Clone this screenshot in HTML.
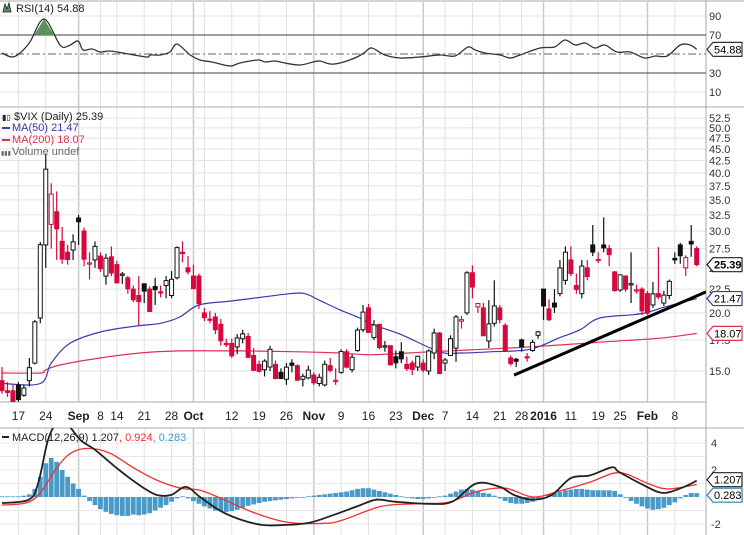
<!DOCTYPE html>
<html><head><meta charset="utf-8">
<style>
html,body{margin:0;padding:0;background:#fff;}
svg{display:block;font-family:"Liberation Sans",sans-serif;}
</style></head>
<body>
<svg id="c" width="744" height="535" viewBox="0 0 744 535">
<defs>
<clipPath id="cpMain"><rect x="0" y="108" width="706" height="294"/></clipPath>
<clipPath id="cpRsi"><rect x="0" y="2" width="706" height="105"/></clipPath>
<clipPath id="cpMacd"><rect x="0" y="428" width="706" height="107"/></clipPath>
</defs>
</svg>
<script>
// ---- price data (Aug 12 2015 - Feb 12 2016) ----
const opens  = [14.3,13.6,13.6,14.0,13.3,14.3,15.6,19.5,28.0,31.0,33.0,28.5,27.0,27.3,
 32.0,30.0,25.5,26.0,26.5,24.0,26.4,25.4,24.1,23.8,22.5,21.8,23.1,22.5,22.8,22.2,22.9,21.8,23.8,27.0,25.0,
 24.0,24.0,20.0,19.4,19.6,18.9,17.2,17.2,16.9,17.6,17.8,16.2,15.5,15.1,15.3,15.5,14.9,14.4,15.6,15.4,14.4,14.5,
 14.7,14.1,14.0,15.4,14.3,14.9,16.5,15.1,16.6,18.4,20.5,17.7,18.9,16.9,17.0,16.1,16.5,15.5,15.6,15.3,
 15.6,15.0,16.4,18.1,15.6,16.2,16.8,19.2,20.0,24.4,20.6,20.5,17.4,19.0,20.5,18.8,16.0,15.9,17.5,16.1,16.6,17.9,
 22.5,20.4,21.0,22.0,23.5,26.0,22.9,22.0,25.0,28.0,26.0,28.0,27.5,24.5,22.4,24.0,23.0,22.4,22.5,
 22.0,20.8,22.0,21.0,21.8,26.2,28.0,25.0,28.5,27.5];
const highs  = [15.3,14.2,14.0,14.2,14.0,16.0,19.3,28.4,44.0,38.0,36.5,30.6,28.0,29.5,
 32.5,30.5,27.0,28.5,27.0,26.8,27.8,25.9,24.5,24.0,22.9,24.0,23.1,22.8,23.8,22.9,24.0,24.6,27.8,28.5,26.5,
 25.4,24.3,20.5,20.2,20.0,19.4,17.6,17.6,18.0,18.4,18.1,16.8,15.8,15.9,17.0,15.8,15.2,15.6,15.9,15.5,14.8,15.4,
 14.9,14.8,15.8,16.0,15.2,16.7,16.7,16.3,18.6,20.8,20.9,19.3,18.9,17.4,17.0,16.6,17.3,16.1,15.8,16.2,
 15.9,16.7,18.5,18.2,16.0,17.9,19.8,19.7,24.6,25.3,21.0,21.0,21.3,23.5,20.8,19.0,16.2,16.0,17.6,16.4,17.5,18.3,
 22.5,21.4,22.5,26.0,27.8,27.8,24.3,26.0,26.0,30.9,27.0,32.1,28.0,24.6,24.2,24.1,27.0,23.0,22.7,
 22.3,23.3,27.7,22.3,23.6,27.0,28.3,26.6,30.9,27.8];
const lows   = [13.4,13.2,12.7,12.9,13.2,13.9,15.5,19.0,25.0,27.5,26.0,25.5,25.4,26.0,
 28.0,25.2,23.6,25.0,24.5,23.0,24.0,23.2,23.1,22.0,21.1,18.8,21.0,20.2,20.8,21.6,21.5,21.5,23.6,25.7,24.2,
 22.5,20.4,19.2,19.0,18.0,17.0,16.9,16.0,16.3,17.2,16.0,15.0,14.9,14.6,15.0,14.4,14.4,14.0,14.9,14.3,13.9,14.4,
 14.0,13.9,13.9,14.9,14.0,14.8,15.2,14.9,16.5,18.2,18.1,17.5,16.7,16.5,15.4,15.2,15.6,15.0,14.7,15.0,
 14.9,14.7,15.9,14.8,15.0,16.2,15.7,18.5,19.8,21.5,20.0,18.2,16.8,18.7,19.0,16.5,15.4,15.3,16.5,15.7,16.5,17.6,
 19.3,19.2,20.0,21.7,23.0,24.0,22.0,21.5,23.5,26.5,25.6,27.0,25.2,22.2,22.2,22.2,21.0,22.0,19.8,
 19.8,20.5,21.4,20.7,21.4,25.5,25.5,24.0,26.4,25.2];
const closes = [13.61,13.49,12.83,13.02,13.79,15.25,19.14,28.03,40.74,36.02,30.32,26.10,26.05,28.43,
 31.40,26.09,25.61,27.80,24.90,26.23,24.37,23.20,24.25,22.54,21.35,21.14,22.28,20.14,22.44,22.13,23.47,23.62,27.63,26.83,24.50,
 22.55,20.94,19.54,19.40,18.40,17.42,17.08,16.17,17.67,18.03,16.05,15.05,14.98,15.75,16.70,14.45,14.46,15.29,15.43,14.33,14.61,15.07,
 14.15,14.54,15.51,15.05,14.33,16.52,15.29,16.06,18.37,20.08,18.16,18.84,16.85,16.99,15.47,15.62,15.93,15.19,15.12,16.13,
 15.07,16.57,18.11,14.81,15.84,17.60,19.61,19.34,24.39,22.73,20.95,17.86,18.94,20.70,19.34,16.60,15.57,15.74,16.91,16.08,17.29,18.21,
 20.70,19.34,20.59,24.99,27.01,24.30,22.47,25.22,23.95,27.02,26.05,27.59,26.69,22.34,24.15,22.50,23.11,22.42,20.20,
 19.98,21.98,21.65,21.84,23.38,26.00,26.54,26.29,28.14,25.40];

// moving averages (sampled at candle indices)
const ma50Idx = [0,7,9,12.4,18,24.7,29,32.5,36,41.7,47.2,52.7,55.4,58,61.8,65.4,67.6,72.8,80,83.7,89.2,96.5,102,105.7,109.3,116.6,121.2,127];
const ma50Val = [14.1,14.1,15.6,17.2,18.2,18.75,19.0,19.6,20.8,21.2,21.6,22.0,22.0,21.3,20.3,19.5,18.9,18.0,16.5,16.4,16.5,16.7,17.7,18.4,19.5,19.9,20.6,21.47];
const ma200Idx = [0,7,7.9,10.6,17.9,25.2,32.5,43.5,54.5,61.8,67.6,78.2,85.6,96.5,109.3,120.3,127];
const ma200Val = [14.85,14.85,15.07,15.45,16.0,16.4,16.57,16.57,16.5,16.4,16.26,16.5,16.65,16.9,17.3,17.65,18.07];

// trendline (index, price)
const trendIdx = [93.6,128.7];
const trendVal = [14.7,22.2];

// RSI
const rsiIdx = [0,1.8,3.3,5.1,7.7,10.6,12.1,13.9,14.8,16.5,17.9,19.7,22.1,25.2,26.7,27.1,28.9,30.7,32,34.4,36.2,38.4,41.7,43.5,46.8,48.1,49.9,51.7,54.5,56.9,58.1,60,61.8,64.9,66.4,67.6,70,72.8,76.4,80.1,82.8,85.2,86.5,88.3,91,92.9,94.7,98.4,101,102.9,104.8,106.6,108.4,110.2,112.4,114.8,117.5,119.4,121.6,124,125.8,127];
const rsiVal = [51,46.8,51,62.6,86.8,59.5,58.4,63.7,54.2,55.3,52.1,53.2,51,47.9,46.8,49,49,52.1,60.5,49,43.7,41.6,37.4,40.5,43.7,41.6,42.6,40.5,38.4,41.6,42.6,39.5,40.5,46.8,52.1,56.3,49,45.8,46.8,49,47.9,57.4,54.2,51,49,45.8,49,56.3,57.4,64.7,59.5,61.6,56.3,59.5,52.1,52.1,45.8,47.9,47.9,59.5,59.5,54.88];

// MACD
const macdIdx = [0,4.9,6.6,8.4,10.1,12.1,14.4,17,21.4,25.8,28.3,30.9,33.6,36.2,39.7,43.1,47.5,51.9,56.3,60.5,64.9,68.4,71.8,78.1,82.3,86.7,91,93.6,97.1,100.5,104,107.5,111.5,112.8,117.2,120.7,124.1,127];
const macdVal = [-0.45,-0.2,1.0,4.2,5.5,5.3,4.2,3.5,2.0,0.7,0.15,0.15,0.75,0,-0.98,-1.6,-2.07,-2.07,-1.9,-1.35,-0.7,-0.2,-0.35,-0.5,-0.35,1.0,0.75,0.15,-0.2,0.15,1.4,1.6,2.2,1.85,0.9,0.3,0.65,1.207];
const sigIdx = [0,5.7,10.1,12.6,15.7,19.7,23.9,28.3,32.7,36.2,40.6,45.7,51.9,58.9,62.3,69.3,75.3,81.5,86.7,92,97.1,102.4,107.5,112.8,118.1,121.6,127];
const sigVal = [-0.6,-0.2,2.2,3.25,3.6,3.25,2.2,1.25,0.65,0.5,-0.2,-1.1,-1.85,-1.95,-1.7,-0.7,-0.5,-0.4,0.4,0.65,0,0.5,1.1,1.8,1.0,0.6,0.924];
const histVal = [0.05,0.05,0.05,0.05,0.1,0.2,0.6,1.5,2.5,2.9,2.6,2.0,1.5,1.0,0.6,0.1,
 -0.3,-0.6,-0.9,-1.1,-1.25,-1.35,-1.4,-1.4,-1.3,-1.35,-1.3,-1.2,-1.0,-0.8,-0.6,-0.35,-0.1,0.05,-0.1,-0.3,-0.5,-0.7,-0.85,-1.0,-1.05,-1.1,-1.05,-0.95,-0.8,-0.65,-0.55,-0.45,-0.35,-0.3,-0.25,-0.2,-0.15,-0.1,-0.05,0,
 0.05,0.1,0.15,0.2,0.25,0.3,0.35,0.4,0.5,0.6,0.65,0.65,0.55,0.45,0.35,0.25,0.15,0.05,-0.05,-0.1,-0.15,-0.15,-0.1,-0.05,0.05,0.1,0.25,0.4,0.55,0.6,0.55,0.45,0.3,0.25,0.1,
 -0.1,-0.3,-0.45,-0.5,-0.5,-0.45,-0.35,-0.2,0,0.2,0.3,0.4,0.5,0.55,0.6,0.6,0.55,0.5,0.5,0.5,0.5,0.45,0.2,0,-0.3,-0.5,-0.7,-0.85,-0.95,-0.9,-0.8,-0.6,-0.4,-0.1,0.15,0.3,0.283];

// axes
const priceTicks = [15,17.5,20,22.5,25,27.5,30,32.5,35,37.5,40,42.5,45,47.5,50,52.5];
const rsiTicks = [90,70,30,10];
const macdTicks = [4,2,-2];
const gridIdx = [3,8,14,18,21,26,31,35,37,42,47,52,57,62,67,72,77,81,86,91,95,99,104,109,113,118,123];
const gridLbl = ["17","24","Sep","8","14","21","28","Oct","","12","19","26","Nov","9","16","23","Dec","7","14","21","28","2016","11","19","25","Feb","8"];
const monthIdx = [14,35,57,77,99,118];

const NS = "http://www.w3.org/2000/svg";
const svg = document.getElementById('c');
function mk(tag, attrs, parent){ const e=document.createElementNS(NS,tag); for(const k in attrs) e.setAttribute(k,attrs[k]); (parent||svg).appendChild(e); return e; }
const xOf = i => 2 + i*5.47;
const yP = v => 231 - (Math.log(v) - Math.log(30))*202;
const yR = v => 54 - (v-50)*0.95;
const yM = v => 497 - v*13.5;
// smooth curve (Catmull-Rom) through points
function smooth(pts){
  let d='M'+pts[0][0].toFixed(1)+','+pts[0][1].toFixed(1);
  for(let i=0;i<pts.length-1;i++){
    const p0=pts[Math.max(0,i-1)],p1=pts[i],p2=pts[i+1],p3=pts[Math.min(pts.length-1,i+2)];
    const c1=[p1[0]+(p2[0]-p0[0])/6,p1[1]+(p2[1]-p0[1])/6];
    const c2=[p2[0]-(p3[0]-p1[0])/6,p2[1]-(p3[1]-p1[1])/6];
    d+='C'+c1[0].toFixed(1)+','+c1[1].toFixed(1)+' '+c2[0].toFixed(1)+','+c2[1].toFixed(1)+' '+p2[0].toFixed(1)+','+p2[1].toFixed(1);
  }
  return d;
}

// panel grids
const grid = mk('g',{});


gridIdx.forEach((gi,k)=>{
  const x = xOf(gi);
  const dark = monthIdx.indexOf(gi)>=0;
  [[2,107],[108,402],[428,535]].forEach(r=>{
    const l = mk('line',{x1:x,x2:x,y1:r[0],y2:r[1],stroke:dark?'#c8c8c8':'#e2e2e2','stroke-width':dark?1.5:1},grid);
    
    
  });
});
priceTicks.forEach(v=>{ const l=mk('line',{x1:0,x2:706,y1:yP(v),y2:yP(v),stroke:'#e2e2e2'},grid);
  
   });
[90,10].forEach(v=>{ const l=mk('line',{x1:0,x2:706,y1:yR(v),y2:yR(v),stroke:'#e2e2e2'},grid);
  
   });
[4,3,2,1,-1,-2].forEach(v=>{ const l=mk('line',{x1:0,x2:706,y1:yM(v),y2:yM(v),stroke:'#e8e8e8'},grid);
  
   });

// panel borders
[[0,1,744,1],[0,107,744,107],[0,402,706,402],[0,428,744,428],[706,0,706,535]].forEach(b=>{
  const l = mk('line',{x1:b[0],y1:b[1],x2:b[2],y2:b[3],stroke:'#aaa'});
  
  
});

// RSI panel
const rsiG = mk('g',{'clip-path':'url(#cpRsi)'});


[70,30].forEach(v=>{ const l=mk('line',{x1:0,x2:706,y1:yR(v),y2:yR(v),stroke:'#666','stroke-width':1.2},rsiG);
  
   });
const l50 = mk('line',{x1:0,x2:706,y1:yR(50),y2:yR(50),stroke:'#666','stroke-dasharray':'8,3,2,3'},rsiG);


let fill = '';
for(let k=0;k<rsiIdx.length-1;k++){
  const a=rsiVal[k], b=rsiVal[k+1];
  if(a>70||b>70){
    const xa=xOf(rsiIdx[k]), xb=xOf(rsiIdx[k+1]);
    const pts=[];
    let sx=xa, ex=xb;
    if(a<=70) sx = xa+(xb-xa)*(70-a)/(b-a);
    if(b<=70) ex = xa+(xb-xa)*(a-70)/(a-b);
    pts.push([sx,yR(70)]);
    if(a>70) pts.push([xa,yR(a)]);
    if(b>70) pts.push([xb,yR(b)]);
    pts.push([ex,yR(70)]);
    fill += 'M'+pts.map(p=>p[0].toFixed(1)+','+p[1].toFixed(1)).join('L')+'Z';
  }
}
const ob = mk('path',{d:fill,fill:'#5d8f5d',stroke:'none'},rsiG);


const rsiLine = mk('path',{d:smooth(rsiIdx.map((i,k)=>[xOf(i),yR(rsiVal[k])])),fill:'none',stroke:'#333','stroke-width':1.3},rsiG);



// main panel
const mainG = mk('g',{'clip-path':'url(#cpMain)'});


const ma200 = mk('path',{d:smooth(ma200Idx.map((i,k)=>[xOf(i),yP(ma200Val[k])])),fill:'none',stroke:'#e03050','stroke-width':1.2},mainG);


const ma50 = mk('path',{d:smooth(ma50Idx.map((i,k)=>[xOf(i),yP(ma50Val[k])])),fill:'none',stroke:'#3a3aa8','stroke-width':1.2},mainG);


for(let i=0;i<closes.length;i++){
  const o=opens[i], c=closes[i], h=highs[i], l=lows[i];
  const prev = i>0?closes[i-1]:o;
  const col = c<prev ? '#d6083c' : '#111';
  const hollow = c>o;
  const x = xOf(i);
  const g = mk('g',{},mainG);
  
  
  mk('line',{x1:x,x2:x,y1:yP(h),y2:yP(l),stroke:col,'stroke-width':1.2},g);
  const top=yP(Math.max(o,c)), bot=yP(Math.min(o,c));
  mk('rect',{x:x-2,y:top,width:4,height:Math.max(1.2,bot-top),fill:hollow?'#fff':col,stroke:col,'stroke-width':1},g);
}
const tr = mk('line',{x1:xOf(trendIdx[0]),y1:yP(trendVal[0]),x2:xOf(trendIdx[1]),y2:yP(trendVal[1]),stroke:'#000','stroke-width':3},mainG);



// MACD panel
const mG = mk('g',{'clip-path':'url(#cpMacd)'});


histVal.forEach((v,i)=>{
  const y0=yM(0), y1=yM(v);
  const r = mk('rect',{x:xOf(i)-2.4,y:Math.min(y0,y1),width:4.8,height:Math.max(0.8,Math.abs(y1-y0)),fill:'#4a9ac8',stroke:'none'},mG);
  
  
});
const sig = mk('path',{d:smooth(sigIdx.map((i,k)=>[xOf(i),yM(sigVal[k])])),fill:'none',stroke:'#f03030','stroke-width':1.3},mG);


const macd = mk('path',{d:smooth(macdIdx.map((i,k)=>[xOf(i),yM(macdVal[k])])),fill:'none',stroke:'#222','stroke-width':1.8},mG);



function txt(s,x,y,attrs,name){ const t=mk('text',Object.assign({x:x,y:y,'font-size':11,fill:'#222'},attrs||{})); t.textContent=s;
  
  
  return t; }

priceTicks.forEach(v=>txt(v.toFixed(1),709,yP(v)+4,{'font-size':11,fill:'#333'},'price-tick-label'));
rsiTicks.forEach(v=>txt(String(v),709,yR(v)+4,{fill:'#333'},'rsi-tick-label'));
macdTicks.forEach(v=>txt(String(v),711,yM(v)+4,{fill:'#333'},'macd-tick-label'));
gridIdx.forEach((gi,k)=>{ if(!gridLbl[k]) return;
  const bold = monthIdx.indexOf(gi)>=0;
  txt(gridLbl[k],xOf(gi),420,{'text-anchor':'middle','font-weight':bold?'bold':'normal',fill:'#222','font-size':12},'date-label'); });

function tag(s,y,col,bold,name){
  const p = mk('path',{d:`M707,${y} L713,${y-7} L742,${y-7} L742,${y+7} L713,${y+7} Z`,fill:'#fff',stroke:col,'stroke-width':1.2});
  
  
  txt(s,714,y+4,{fill:'#000','font-weight':bold?'bold':'normal','font-size':11},name);
}
tag('54.88',yR(54.88),'#333',false,'rsi-value-tag');
tag('18.07',yP(18.07),'#e03050',false,'ma200-value-tag');
tag('21.47',yP(21.47),'#3a3aa8',false,'ma50-value-tag');
tag('25.39',yP(25.39),'#222',true,'price-value-tag');
tag('0.283',yM(0.283)+2,'#2e7fb0',false,'hist-value-tag');
tag('1.207',yM(1.207)-1,'#222',false,'macd-value-tag');

const ic = mk('path',{d:'M3,12 L5,4 L7,9 L9,3 L11,12 Z',fill:'#5d8f5d',stroke:'#222','stroke-width':0.8});


txt('RSI(14) 54.88',16,12,{'font-size':11},'rsi-title');
txt('$VIX (Daily) 25.39',14,120,{'font-size':11},'price-title');
txt('▮▯',2,120,{'font-size':8},'price-icon');
mk('rect',{x:2,y:127,width:8,height:2,fill:'#3a3aa8'});
txt('MA(50) 21.47',12,131,{fill:'#3a3aa8'},'ma50-legend');
mk('rect',{x:2,y:139,width:8,height:2,fill:'#e03050'});
txt('MA(200) 18.07',12,143,{fill:'#e03050'},'ma200-legend');
txt('▮▮▮',1,155,{'font-size':6,fill:'#666'},'volume-icon');
txt('Volume undef',12,155,{fill:'#666'},'volume-legend');
mk('rect',{x:2,y:436,width:7,height:2,fill:'#222'});
const mt = mk('text',{x:12,y:441,'font-size':11,fill:'#222'});


mt.innerHTML = 'MACD(12,26,9) 1.207<tspan fill="#f03030">, 0.924</tspan><tspan fill="#3a9ad0">, 0.283</tspan>';
</script>
</body></html>
